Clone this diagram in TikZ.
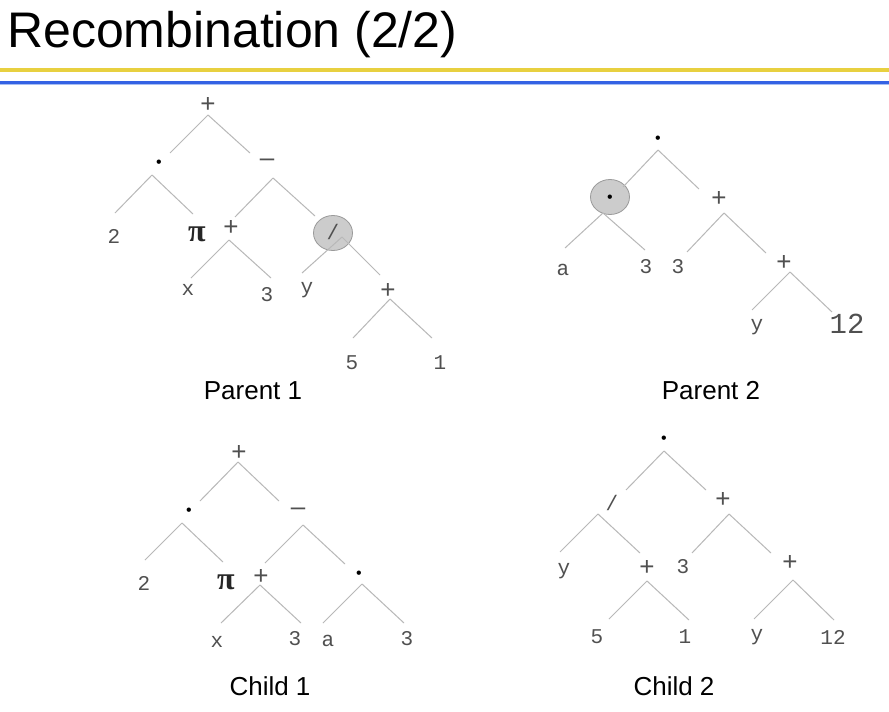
\documentclass[tikz,border=0pt]{standalone}
\usepackage{fontspec}
\usetikzlibrary{shapes.geometric}
\newfontfamily\trsans{Liberation Sans}
\newfontfamily\trmono{Liberation Mono}
\newfontfamily\trserif{Liberation Serif}
\definecolor{lblgray}{HTML}{505050}
\definecolor{edgegray}{HTML}{B8B8B8}
\definecolor{selfill}{HTML}{CCCCCC}
\definecolor{seldraw}{HTML}{9A9A9A}
\definecolor{ruleyellow}{HTML}{E8D040}
\definecolor{ruleblue}{HTML}{3462E4}
\definecolor{ruleblue2}{HTML}{A8BEF2}
\begin{document}
\begin{tikzpicture}[x=1pt,y=-1pt,
  lbl/.style={font=\fontsize{21}{21}\selectfont\trmono, text=lblgray, inner sep=0pt},
  oplbl/.style={font=\fontsize{26}{26}\selectfont\trsans, text=lblgray, inner sep=0pt},
  biglbl/.style={font=\fontsize{29}{29}\selectfont\trmono, text=lblgray, inner sep=0pt},
  pilbl/.style={font=\fontsize{32}{32}\selectfont\trserif\bfseries, text=black!85, inner sep=0pt},
  dotlbl/.style={font=\fontsize{16}{16}\selectfont\trsans, text=black, inner sep=0pt, anchor=base},
  sel/.style={ellipse, draw=seldraw, fill=selfill, line width=0.8pt, minimum width=39pt, minimum height=35pt, inner sep=0pt},
  tlabel/.style={font=\fontsize{26}{26}\selectfont\trsans, text=black, inner sep=0pt},
  conn/.style={draw=edgegray, line width=1pt}]
\useasboundingbox (0,0) rectangle (889,712);
\fill[white] (0,0) rectangle (889,712);
% title and rules
\node[font=\fontsize{50}{50}\selectfont\trsans, anchor=base west, inner sep=0pt] (title) at (7,47) {Recombination (2/2)};
\coordinate (ryl) at (0,70); \coordinate (ryr) at (889,70);
\coordinate (rbl) at (0,82); \coordinate (rbr) at (889,82);
\coordinate (rcl) at (0,84.5); \coordinate (rcr) at (889,84.5);
\draw[ruleyellow, line width=4pt] (ryl) -- (ryr);
\draw[ruleblue, line width=3pt] (rbl) -- (rbr);
\draw[ruleblue2, line width=1pt] (rcl) -- (rcr);

% ===== Parent 1 =====
\node[sel] (p1dc) at (333,233) {};
\node[oplbl] (p1r) at (208,105) {+};
\node[dotlbl] (p1m) at (159,167.7) {•};
\node[oplbl] (p1s) at (267,163) {–};
\node[lbl] (p1two) at (114,236) {2};
\node[pilbl] (p1pi) at (197,234) {π};
\node[oplbl] (p1p) at (231,228) {+};
\node[lbl] (p1d) at (333,232) {/};
\node[lbl] (p1x) at (188,290) {x};
\node[lbl] (p1three) at (267,295) {3};
\node[lbl] (p1y) at (307,290) {y};
\node[oplbl] (p1q) at (388,291) {+};
\node[lbl] (p1five) at (352,363) {5};
\node[lbl] (p1one) at (440,363) {1};
\coordinate (p1r-a) at (208,115);
\coordinate (p1m-e) at (170,153); \coordinate (p1m-a) at (152,175);
\coordinate (p1s-e) at (250,153); \coordinate (p1s-a) at (273,178);
\coordinate (p1two-e) at (115,213);
\coordinate (p1pi-e) at (193,214);
\coordinate (p1p-e) at (235,217); \coordinate (p1p-a) at (229,240);
\coordinate (p1d-e) at (315,216); \coordinate (p1d-a) at (342,237);
\coordinate (p1x-e) at (191,278);
\coordinate (p1three-e) at (271,278);
\coordinate (p1y-e) at (302,273);
\coordinate (p1q-e) at (380,275); \coordinate (p1q-a) at (390,299);
\coordinate (p1five-e) at (353,338);
\coordinate (p1one-e) at (432,338);
\draw[conn] (p1r-a) -- (p1m-e);
\draw[conn] (p1r-a) -- (p1s-e);
\draw[conn] (p1m-a) -- (p1two-e);
\draw[conn] (p1m-a) -- (p1pi-e);
\draw[conn] (p1s-a) -- (p1p-e);
\draw[conn] (p1s-a) -- (p1d-e);
\draw[conn] (p1p-a) -- (p1x-e);
\draw[conn] (p1p-a) -- (p1three-e);
\draw[conn] (p1d-a) -- (p1y-e);
\draw[conn] (p1d-a) -- (p1q-e);
\draw[conn] (p1q-a) -- (p1five-e);
\draw[conn] (p1q-a) -- (p1one-e);
\node[tlabel] (cap1) at (253,391) {Parent 1};

% ===== Parent 2 =====
\node[sel] (p2dc) at (610,197) {};
\node[dotlbl] (p2r) at (658,143.7) {•};
\node[dotlbl] (p2d) at (610,202.7) {•};
\node[oplbl] (p2p) at (719,199) {+};
\node[lbl] (p2a) at (563,270) {a};
\node[lbl] (p2three) at (646,267) {3};
\node[lbl] (p2threeb) at (678,267) {3};
\node[oplbl] (p2q) at (784,263) {+};
\node[lbl] (p2y) at (757,327) {y};
\node[biglbl] (p2twelve) at (847,324) {12};
\coordinate (p2r-a) at (658,150);
\coordinate (p2d-e) at (623,187); \coordinate (p2d-a) at (603,213);
\coordinate (p2p-e) at (699,189); \coordinate (p2p-a) at (724,213);
\coordinate (p2a-e) at (565,248);
\coordinate (p2three-e) at (645,250);
\coordinate (p2threeb-e) at (687,252);
\coordinate (p2q-e) at (766,253); \coordinate (p2q-a) at (790,272);
\coordinate (p2y-e) at (752,310);
\coordinate (p2twelve-e) at (832,312);
\draw[conn] (p2r-a) -- (p2d-e);
\draw[conn] (p2r-a) -- (p2p-e);
\draw[conn] (p2d-a) -- (p2a-e);
\draw[conn] (p2d-a) -- (p2three-e);
\draw[conn] (p2p-a) -- (p2threeb-e);
\draw[conn] (p2p-a) -- (p2q-e);
\draw[conn] (p2q-a) -- (p2y-e);
\draw[conn] (p2q-a) -- (p2twelve-e);
\node[tlabel] (cap2) at (711,391) {Parent 2};

% ===== Child 1 =====
\node[oplbl] (c1r) at (239,453) {+};
\node[dotlbl] (c1m) at (189,515.7) {•};
\node[oplbl] (c1s) at (298,512) {–};
\node[lbl] (c1two) at (144,583) {2};
\node[pilbl] (c1pi) at (226,582) {π};
\node[oplbl] (c1p) at (261,577) {+};
\node[dotlbl] (c1d) at (359,578.7) {•};
\node[lbl] (c1x) at (217,642) {x};
\node[lbl] (c1three) at (295,639) {3};
\node[lbl] (c1a) at (328,641) {a};
\node[lbl] (c1threeb) at (407,639) {3};
\coordinate (c1r-a) at (238,462);
\coordinate (c1m-e) at (200,501); \coordinate (c1m-a) at (182,523);
\coordinate (c1s-e) at (279,501); \coordinate (c1s-a) at (303,525);
\coordinate (c1two-e) at (145,560);
\coordinate (c1pi-e) at (223,562);
\coordinate (c1p-e) at (265,563); \coordinate (c1p-a) at (260,585);
\coordinate (c1d-e) at (345,564); \coordinate (c1d-a) at (362,584);
\coordinate (c1x-e) at (221,623);
\coordinate (c1three-e) at (301,623);
\coordinate (c1a-e) at (323,623);
\coordinate (c1threeb-e) at (404,623);
\draw[conn] (c1r-a) -- (c1m-e);
\draw[conn] (c1r-a) -- (c1s-e);
\draw[conn] (c1m-a) -- (c1two-e);
\draw[conn] (c1m-a) -- (c1pi-e);
\draw[conn] (c1s-a) -- (c1p-e);
\draw[conn] (c1s-a) -- (c1d-e);
\draw[conn] (c1p-a) -- (c1x-e);
\draw[conn] (c1p-a) -- (c1three-e);
\draw[conn] (c1d-a) -- (c1a-e);
\draw[conn] (c1d-a) -- (c1threeb-e);
\node[tlabel] (cap3) at (270,686) {Child 1};

% ===== Child 2 =====
\node[dotlbl] (c2r) at (664,443.7) {•};
\node[lbl] (c2d) at (612,503) {/};
\node[oplbl] (c2p) at (723,500) {+};
\node[lbl] (c2y) at (564,571) {y};
\node[oplbl] (c2q) at (647,568) {+};
\node[lbl] (c2five) at (597,637) {5};
\node[lbl] (c2one) at (685,637) {1};
\node[lbl] (c2three) at (683,567) {3};
\node[oplbl] (c2s) at (790,563) {+};
\node[lbl] (c2yb) at (757,637) {y};
\node[lbl] (c2twelve) at (833,637) {12};
\coordinate (c2r-a) at (664,451);
\coordinate (c2d-e) at (626,490); \coordinate (c2d-a) at (598,514);
\coordinate (c2p-e) at (706,490); \coordinate (c2p-a) at (729,514);
\coordinate (c2y-e) at (560,552);
\coordinate (c2q-e) at (640,553); \coordinate (c2q-a) at (647,581);
\coordinate (c2five-e) at (609,619);
\coordinate (c2one-e) at (689,620);
\coordinate (c2three-e) at (692,553);
\coordinate (c2s-e) at (771,553); \coordinate (c2s-a) at (793,580);
\coordinate (c2yb-e) at (754,619);
\coordinate (c2twelve-e) at (834,620);
\draw[conn] (c2r-a) -- (c2d-e);
\draw[conn] (c2r-a) -- (c2p-e);
\draw[conn] (c2d-a) -- (c2y-e);
\draw[conn] (c2d-a) -- (c2q-e);
\draw[conn] (c2q-a) -- (c2five-e);
\draw[conn] (c2q-a) -- (c2one-e);
\draw[conn] (c2p-a) -- (c2three-e);
\draw[conn] (c2p-a) -- (c2s-e);
\draw[conn] (c2s-a) -- (c2yb-e);
\draw[conn] (c2s-a) -- (c2twelve-e);
\node[tlabel] (cap4) at (674,686) {Child 2};
\end{tikzpicture}
\end{document}
